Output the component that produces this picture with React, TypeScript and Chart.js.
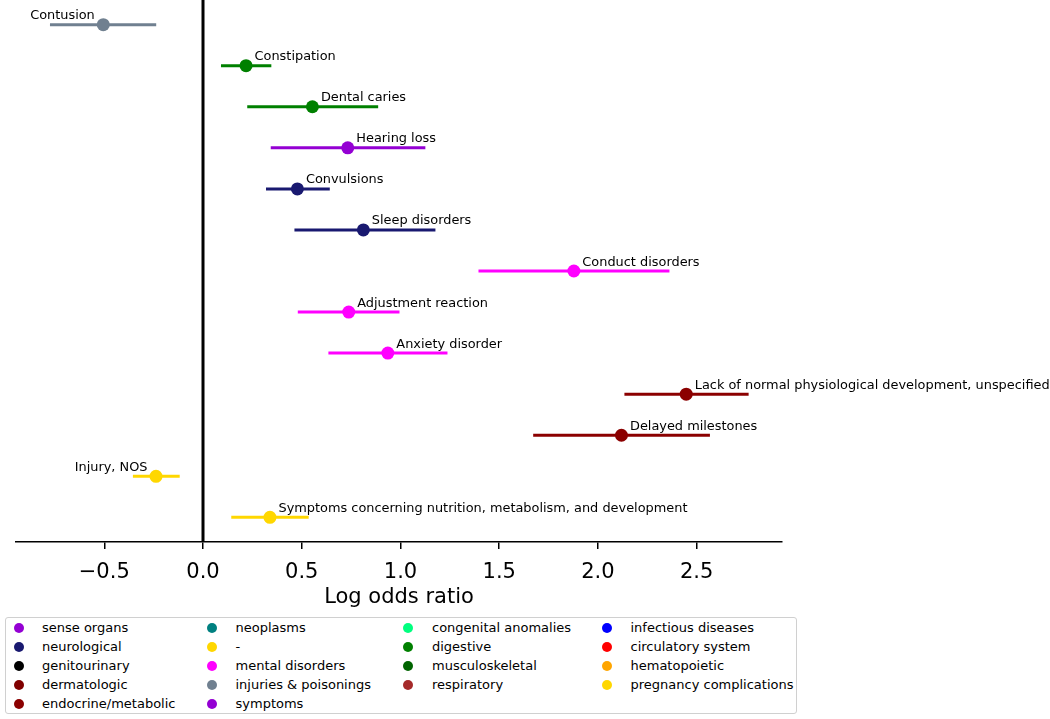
import React, { useEffect, useRef } from "react";
import { Chart, registerables } from "chart.js";
Chart.register(...registerables);

const FONT = "'DejaVu Sans', sans-serif";

const diagnoses = [
  "Contusion",
  "Constipation",
  "Dental caries",
  "Hearing loss",
  "Convulsions",
  "Sleep disorders",
  "Conduct disorders",
  "Adjustment reaction",
  "Anxiety disorder",
  "Lack of normal physiological development, unspecified",
  "Delayed milestones",
  "Injury, NOS",
  "Symptoms concerning nutrition, metabolism, and development",
];
const logOdds = [-0.505, 0.218, 0.554, 0.733, 0.478, 0.812, 1.878, 0.738, 0.936, 2.447, 2.119, -0.238, 0.339];
const ciLow = [-0.775, 0.091, 0.224, 0.343, 0.319, 0.463, 1.395, 0.48, 0.635, 2.134, 1.672, -0.355, 0.143];
const ciHigh = [-0.237, 0.346, 0.887, 1.126, 0.642, 1.177, 2.362, 0.995, 1.238, 2.763, 2.567, -0.118, 0.535];
const diagnosisCategory = [
  "injuries & poisonings",
  "digestive",
  "digestive",
  "sense organs",
  "neurological",
  "neurological",
  "mental disorders",
  "mental disorders",
  "mental disorders",
  "endocrine/metabolic",
  "endocrine/metabolic",
  "-",
  "-",
];

const legendNames = [
  "sense organs",
  "neurological",
  "genitourinary",
  "dermatologic",
  "endocrine/metabolic",
  "neoplasms",
  "-",
  "mental disorders",
  "injuries & poisonings",
  "symptoms",
  "congenital anomalies",
  "digestive",
  "musculoskeletal",
  "respiratory",
  "infectious diseases",
  "circulatory system",
  "hematopoietic",
  "pregnancy complications",
];
const legendColors = [
  "#9400D3",
  "#191970",
  "#000000",
  "#800000",
  "#8B0000",
  "#008080",
  "#FFD700",
  "#FF00FF",
  "#708090",
  "#9400D3",
  "#00FF7F",
  "#008000",
  "#006400",
  "#A52A2A",
  "#0000FF",
  "#FF0000",
  "#FFA500",
  "#FFD700",
];
const legendColumnSizes = [5, 5, 4, 4];

const xTicks = [-0.5, 0, 0.5, 1, 1.5, 2, 2.5];
const xMin = -0.947;
const xMax = 2.932;

const colorOf = (cat: string) => legendColors[legendNames.indexOf(cat)];

const labelPlugin = {
  id: "pointLabels",
  afterDatasetsDraw(chart: any) {
    const ctx = chart.ctx;
    const xs = chart.scales.x;
    const ys = chart.scales.y;
    ctx.save();
    ctx.font = `12.9px ${FONT}`;
    ctx.fillStyle = "#000";
    ctx.textBaseline = "alphabetic";
    diagnoses.forEach((name, i) => {
      const px = xs.getPixelForValue(logOdds[i]);
      const py = ys.getPixelForValue(i);
      if (logOdds[i] < 0) {
        ctx.textAlign = "right";
        ctx.fillText(name, px - 8.5, py - 5.5);
      } else {
        ctx.textAlign = "left";
        ctx.fillText(name, px + 8.5, py - 5.5);
      }
    });
    ctx.restore();
  },
};

export default function App() {
  const ref = useRef<HTMLCanvasElement>(null);

  useEffect(() => {
    if (!ref.current) return;
    const datasets: any[] = [];
    datasets.push({
      data: [
        { x: 0, y: -0.6 },
        { x: 0, y: 12.6 },
      ],
      showLine: true,
      borderColor: "#000",
      borderWidth: 3,
      pointRadius: 0,
    });
    diagnoses.forEach((_, i) => {
      datasets.push({
        data: [
          { x: ciLow[i], y: i },
          { x: ciHigh[i], y: i },
        ],
        showLine: true,
        borderColor: colorOf(diagnosisCategory[i]),
        borderWidth: 3,
        pointRadius: 0,
      });
    });
    datasets.push({
      data: logOdds.map((v, i) => ({ x: v, y: i })),
      showLine: false,
      pointRadius: 6.5,
      pointBorderWidth: 0,
      pointBackgroundColor: diagnosisCategory.map(colorOf),
      pointBorderColor: diagnosisCategory.map(colorOf),
    });

    const chart = new Chart(ref.current, {
      type: "scatter",
      data: { datasets },
      plugins: [labelPlugin],
      options: {
        animation: false,
        responsive: false,
        devicePixelRatio: 1,
        layout: { autoPadding: false, padding: { left: 16, right: 268, top: 0, bottom: 0 } },
        plugins: { legend: { display: false }, tooltip: { enabled: false } },
        scales: {
          x: {
            type: "linear",
            min: xMin,
            max: xMax,
            afterBuildTicks: (s: any) => {
              s.ticks = xTicks.map((v) => ({ value: v }));
            },
            afterFit: (s: any) => {
              s.height = 73;
            },
            ticks: {
              autoSkip: false,
              maxRotation: 0,
              padding: 11,
              color: "#000",
              font: { family: FONT, size: 21 },
              callback: (v: any) => {
                const s = Number(v).toFixed(1);
                return s.startsWith("-") ? "\u2212" + s.slice(1) : s;
              },
            },
            grid: {
              drawOnChartArea: false,
              drawTicks: true,
              tickLength: 7,
              color: "#000",
              lineWidth: 1.5,
            },
            border: { display: true, color: "#000", width: 1.6 },
            title: {
              display: true,
              text: "Log odds ratio",
              color: "#000",
              font: { family: FONT, size: 21 },
              padding: { top: 0, bottom: 5 },
            },
          },
          y: {
            type: "linear",
            reverse: true,
            min: -0.6,
            max: 12.6,
            display: false,
          },
        },
      } as any,
    });
    return () => chart.destroy();
  }, []);

  const colX = [[18.6, 42], [212, 235.5], [407.5, 432], [607, 630.5]];
  const rowY = [627.6, 646.7, 665.8, 684.9, 704];
  const legendItems: any[] = [];
  let idx = 0;
  legendColumnSizes.forEach((n, c) => {
    for (let r = 0; r < n; r++) {
      const name = legendNames[idx];
      const color = legendColors[idx];
      legendItems.push(
        <React.Fragment key={idx}>
          <div
            style={{
              position: "absolute",
              left: colX[c][0] - 5,
              top: rowY[r] - 5,
              width: 10,
              height: 10,
              borderRadius: "50%",
              background: color,
            }}
          />
          <div
            style={{
              position: "absolute",
              left: colX[c][1],
              top: rowY[r] - 9,
              height: 18,
              lineHeight: "18px",
              fontSize: 13,
              fontFamily: FONT,
              color: "#000",
              whiteSpace: "nowrap",
            }}
          >
            {name}
          </div>
        </React.Fragment>
      );
      idx++;
    }
  });

  return (
    <div style={{ position: "absolute", left: 0, top: 0, width: 1050, height: 719, background: "#fff", overflow: "hidden" }}>
      <canvas ref={ref} width={1050} height={615} style={{ position: "absolute", left: 0, top: 0, width: 1050, height: 615 }} />
      <div
        style={{
          position: "absolute",
          left: 5,
          top: 616.5,
          width: 790,
          height: 95,
          border: "1.5px solid #d0d0d0",
          borderRadius: 3,
          boxSizing: "content-box",
        }}
      />
      {legendItems}
    </div>
  );
}
